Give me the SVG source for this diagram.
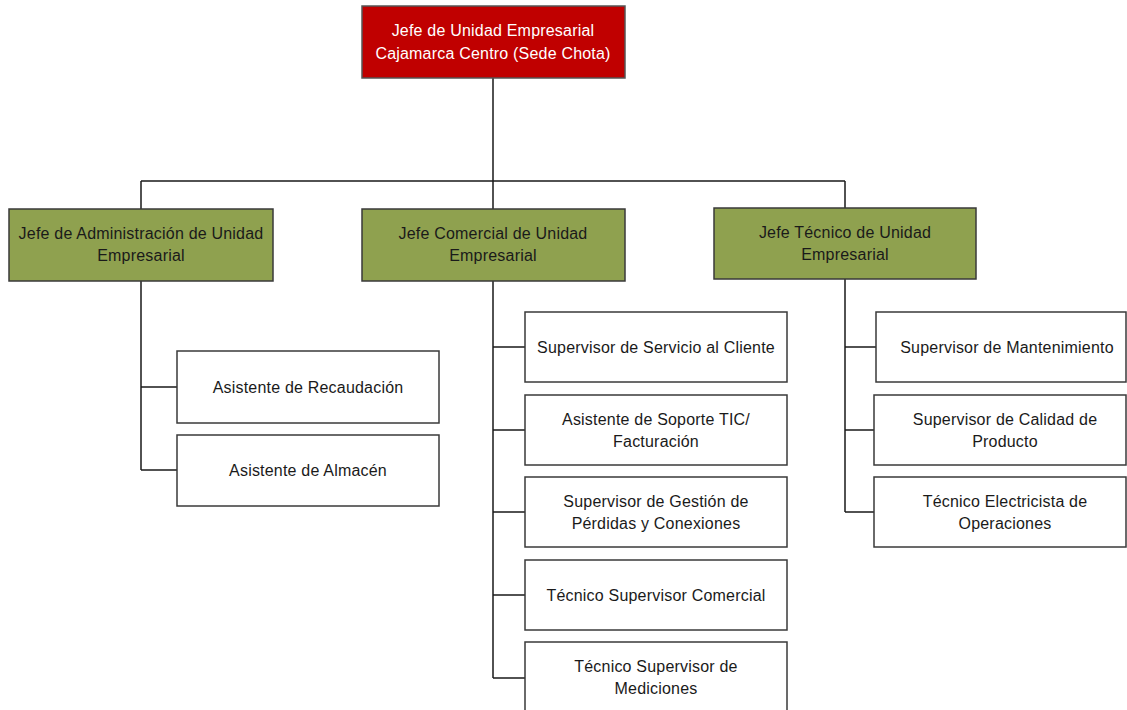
<svg xmlns="http://www.w3.org/2000/svg" width="1127" height="710" viewBox="0 0 1127 710">
<style>
.box{fill:#fff;stroke:#3a3a3a;stroke-width:1.5}
.green{fill:#8FA14F;stroke:#3a3a3a;stroke-width:1.5}
.red{fill:#C00000;stroke:#555;stroke-width:1.5}
text{font-family:"Liberation Sans",Arial,sans-serif;font-size:16px;letter-spacing:0.2px;fill:#1a1a1a;text-anchor:middle}
.w{fill:#fff}
.conn{fill:none;stroke:#1a1a1a;stroke-width:1.5}
</style>
<rect width="1127" height="710" fill="#fff"/>
<g id="connectors" class="conn">
<path d="M493 78V181M141 181H845M141 181V209M493 181V209M845 181V208"/>
<path d="M141 281V470M141 387H177M141 470H177"/>
<path d="M493 281V678M493 347H525M493 430H525M493 512H525M493 595H525M493 678H525"/>
<path d="M845 279V512M845 347H876M845 430H874M845 512H874"/>
</g>
<g id="n0"><rect class="red" x="362" y="6" width="263" height="72"/><text class="w" x="493" y="36">Jefe de Unidad Empresarial</text><text class="w" x="493" y="59">Cajamarca Centro (Sede Chota)</text></g>
<g id="n1"><rect class="green" x="9" y="209" width="264" height="72"/><text x="141" y="239">Jefe de Administración de Unidad</text><text x="141" y="261">Empresarial</text></g>
<g id="n2"><rect class="green" x="362" y="209" width="263" height="72"/><text x="493" y="239">Jefe Comercial de Unidad</text><text x="493" y="261">Empresarial</text></g>
<g id="n3"><rect class="green" x="714" y="208" width="262" height="71"/><text x="845" y="238">Jefe Técnico de Unidad</text><text x="845" y="260">Empresarial</text></g>
<g id="n4"><rect class="box" x="177" y="351" width="262" height="72"/><text x="308" y="393">Asistente de Recaudación</text></g>
<g id="n5"><rect class="box" x="177" y="435" width="262" height="71"/><text x="308" y="476">Asistente de Almacén</text></g>
<g id="n6"><rect class="box" x="525" y="312" width="262" height="70"/><text x="656" y="353">Supervisor de Servicio al Cliente</text></g>
<g id="n7"><rect class="box" x="525" y="395" width="262" height="70"/><text x="656" y="425">Asistente de Soporte TIC/</text><text x="656" y="447">Facturación</text></g>
<g id="n8"><rect class="box" x="525" y="477" width="262" height="70"/><text x="656" y="507">Supervisor de Gestión de</text><text x="656" y="529">Pérdidas y Conexiones</text></g>
<g id="n9"><rect class="box" x="525" y="560" width="262" height="70"/><text x="656" y="601">Técnico Supervisor Comercial</text></g>
<g id="n10"><rect class="box" x="525" y="642" width="262" height="72"/><text x="656" y="672">Técnico Supervisor de</text><text x="656" y="694">Mediciones</text></g>
<g id="n11"><rect class="box" x="876" y="312" width="250" height="70"/><text x="1007" y="353">Supervisor de Mantenimiento</text></g>
<g id="n12"><rect class="box" x="874" y="395" width="252" height="70"/><text x="1005" y="425">Supervisor de Calidad de</text><text x="1005" y="447">Producto</text></g>
<g id="n13"><rect class="box" x="874" y="477" width="252" height="70"/><text x="1005" y="507">Técnico Electricista de</text><text x="1005" y="529">Operaciones</text></g>
</svg>
